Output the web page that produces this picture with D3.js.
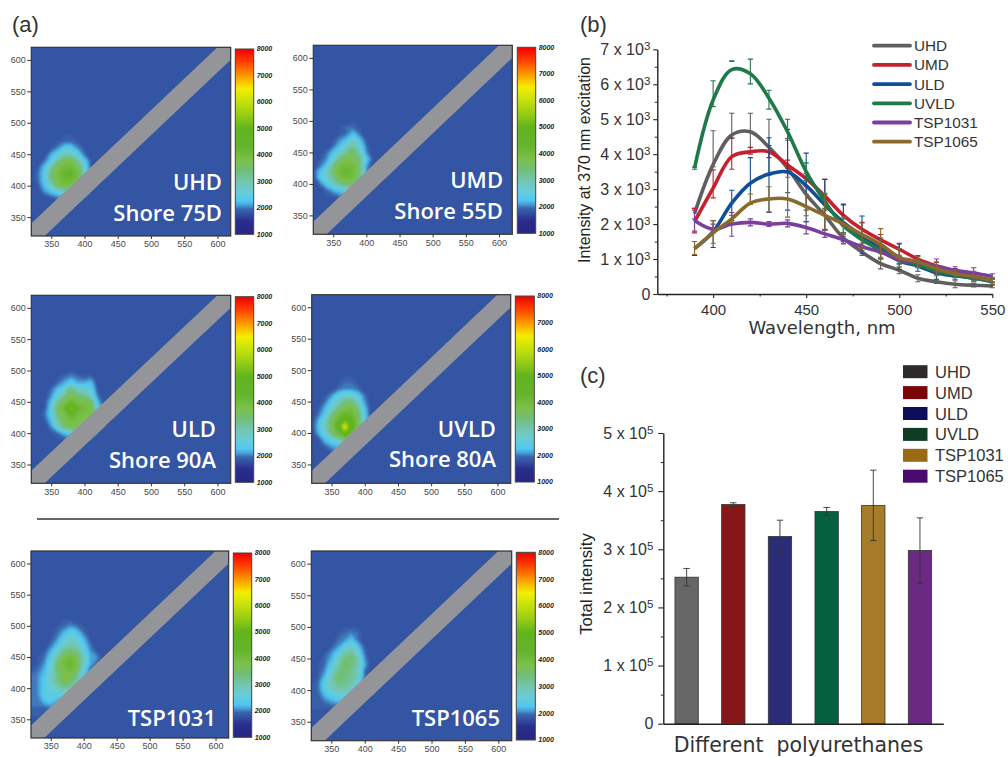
<!DOCTYPE html>
<html>
<head>
<meta charset="utf-8">
<script src="https://cdn.jsdelivr.net/npm/d3@7"></script>
<style>
  body { margin: 0; background: #fff; }
  text { font-family: "Liberation Sans", Arial, sans-serif; }
</style>
</head>
<body>
<div id="chart"></div>
<script>
// ---- data: excitation-emission maps, values in hundreds, rows go from em 520 down to em 360
const exValues = [320, 330, 340, 350, 360, 370, 380, 390, 400, 410, 420, 430];
const emValues = [520, 510, 500, 490, 480, 470, 460, 450, 440, 430, 420, 410, 400, 390, 380, 370, 360];

const gridUHD = [
  [18,18,18,18,18,18,18,18,18,18,18,18],
  [18,18,18,18,18,18,18,18,18,18,18,18],
  [18,18,18,18,18,18,18,18,18,18,18,18],
  [18,18,18,18,18,18,18,18,18,18,18,18],
  [18,18,18,18,18,19,19,18,18,18,18,18],
  [18,18,18,18,19,20,20,19,18,18,18,18],
  [18,18,18,19,21,24,24,21,19,18,18,18],
  [18,18,18,22,25,30,29,25,20,18,18,18],
  [18,18,20,24,32,38,38,32,24,19,18,18],
  [18,19,23,31,38,41,41,38,27,19,18,18],
  [18,20,24,35,40,43,44,40,28,19,18,18],
  [18,20,24,34,39,42,42,40,30,22,18,18],
  [18,19,23,28,37,40,38,38,30,20,18,18],
  [18,18,21,23,25,27,30,30,30,18,18,18],
  [18,18,18,19,20,20,20,18,18,18,18,18],
  [18,18,18,18,18,18,18,18,18,18,18,18],
  [18,18,18,18,18,18,18,18,18,18,18,18]
];
const gridUMD = [
  [18,18,18,18,18,18,18,18,18,18,18,18],
  [18,18,18,18,18,18,18,18,18,18,18,18],
  [18,18,18,18,18,18,19,18,18,18,18,18],
  [18,18,18,18,19,20,20,19,18,18,18,18],
  [18,18,18,18,19,20,23,20,18,18,18,18],
  [18,18,18,19,21,23,28,23,19,18,18,18],
  [18,18,18,20,23,28,32,26,20,18,18,18],
  [18,18,20,23,27,33,37,30,21,18,18,18],
  [18,19,21,26,35,38,38,33,24,19,18,18],
  [18,20,23,33,39,41,40,35,22,18,18,18],
  [19,23,28,36,41,43,41,35,21,18,18,18],
  [18,24,27,33,39,41,40,34,23,18,18,18],
  [18,20,24,28,33,36,36,34,18,18,18,18],
  [18,18,20,22,24,26,28,18,18,18,18,18],
  [18,18,19,19,20,20,18,18,18,18,18,18],
  [18,18,18,18,18,18,18,18,18,18,18,18],
  [18,18,18,18,18,18,18,18,18,18,18,18]
];
const gridULD = [
  [18,18,18,18,18,18,18,18,18,18,18,18],
  [18,18,18,18,18,18,18,18,18,18,18,18],
  [18,18,18,18,18,18,19,18,18,18,18,18],
  [18,18,18,18,19,20,21,20,19,20,18,18],
  [18,18,18,18,20,22,25,22,22,23,18,18],
  [18,18,18,20,23,27,35,28,28,25,19,18],
  [18,18,18,21,26,33,38,35,33,28,20,18],
  [18,18,19,23,33,38,42,39,38,36,23,18],
  [18,18,19,24,38,42,56,43,41,39,26,18],
  [18,18,20,25,35,39,44,41,39,39,30,18],
  [18,18,19,23,32,38,40,39,38,38,30,18],
  [18,18,18,21,27,35,38,38,38,38,30,18],
  [18,18,18,19,20,23,24,30,30,30,18,18],
  [18,18,18,18,19,19,20,22,22,18,18,18],
  [18,18,18,18,18,18,18,18,18,18,18,18],
  [18,18,18,18,18,18,18,18,18,18,18,18],
  [18,18,18,18,18,18,18,18,18,18,18,18]
];
const gridUVLD = [
  [18,18,18,18,18,18,18,18,18,18,18,18],
  [18,18,18,18,18,18,18,18,18,18,18,18],
  [18,18,18,18,18,18,18,18,18,18,18,18],
  [18,18,18,18,18,19,19,18,18,18,18,18],
  [18,18,18,18,19,20,20,19,18,18,18,18],
  [18,18,18,18,20,21,21,20,18,18,18,18],
  [18,18,19,21,25,27,27,24,20,18,18,18],
  [18,18,20,24,29,34,36,28,21,18,18,18],
  [18,19,22,27,34,38,39,33,23,18,18,18],
  [18,20,24,33,39,43,42,37,24,18,18,18],
  [18,22,27,37,44,52,46,38,24,18,18,18],
  [18,23,29,38,46,64,47,38,24,18,18,18],
  [18,22,26,36,42,52,42,38,18,18,18,18],
  [18,19,23,25,30,36,36,18,18,18,18,18],
  [18,18,20,22,23,25,18,18,18,18,18,18],
  [18,18,18,19,20,18,18,18,18,18,18,18],
  [18,18,18,18,18,18,18,18,18,18,18,18]
];
const gridTSP1031 = [
  [18,18,18,18,18,18,18,18,18,18,18,18],
  [18,18,18,18,18,19,19,18,18,18,18,18],
  [18,18,18,18,19,20,21,20,19,18,18,18],
  [18,18,18,18,20,22,25,23,20,18,18,18],
  [18,18,18,19,21,25,27,26,22,19,18,18],
  [18,18,18,20,23,27,30,29,24,20,18,18],
  [18,18,19,22,27,33,35,33,26,21,19,18],
  [18,19,20,24,31,39,41,37,29,22,21,18],
  [18,19,21,26,35,41,43,39,28,22,20,18],
  [19,20,22,27,35,39,41,38,26,20,19,18],
  [20,21,23,28,33,38,38,33,24,19,18,18],
  [20,21,24,28,33,38,36,30,22,18,18,18],
  [20,21,24,26,29,32,30,28,18,18,18,18],
  [20,21,24,25,25,26,28,18,18,18,18,18],
  [20,20,23,24,22,22,18,18,18,18,18,18],
  [20,20,20,21,20,18,18,18,18,18,18,18],
  [19,19,19,19,18,18,18,18,18,18,18,18]
];
const gridTSP1065 = [
  [18,18,18,18,18,18,18,18,18,18,18,18],
  [18,18,18,18,18,18,18,18,18,18,18,18],
  [18,18,18,18,18,19,19,19,18,18,18,18],
  [18,18,18,18,19,20,21,20,18,18,18,18],
  [18,18,18,18,20,21,23,20,18,18,18,18],
  [18,18,18,19,21,24,28,23,19,18,18,18],
  [18,18,19,21,24,30,32,26,20,18,18,18],
  [18,18,20,22,28,34,36,30,21,18,18,18],
  [18,19,20,24,30,37,34,30,22,18,18,18],
  [18,19,21,27,33,35,33,29,20,18,18,18],
  [18,19,23,29,36,34,32,29,20,18,18,18],
  [19,20,25,30,33,33,31,26,18,18,18,18],
  [19,20,24,28,30,30,28,18,18,18,18,18],
  [19,19,22,24,25,26,18,18,18,18,18,18],
  [19,19,20,21,22,18,18,18,18,18,18,18],
  [19,19,19,19,18,18,18,18,18,18,18,18],
  [18,18,18,18,18,18,18,18,18,18,18,18]
];

const mapTicks = [350, 400, 450, 500, 550, 600];
const barTicks = [1000, 2000, 3000, 4000, 5000, 6000, 7000, 8000];

// ---- data: panel (b), intensity in thousands
const wavelengths = [390, 400, 410, 420, 430, 440, 450, 460, 470, 480, 490, 500, 510, 520, 530, 540, 550];
const seriesNames = ["UHD", "UMD", "ULD", "UVLD", "TSP1031", "TSP1065"];

const lineUHD = [2.3, 3.7, 4.55, 4.64, 4.2, 3.6, 2.85, 2.25, 1.6, 1.2, 0.87, 0.68, 0.45, 0.35, 0.28, 0.25, 0.23];
const lineUMD = [2.07, 3.03, 3.93, 4.07, 4.07, 3.69, 3.3, 2.8, 2.25, 1.85, 1.55, 1.28, 1.0, 0.8, 0.65, 0.5, 0.4];
const lineULD = [1.3, 1.78, 2.6, 3.17, 3.43, 3.49, 3.1, 2.55, 2.05, 1.65, 1.3, 0.95, 0.8, 0.6, 0.52, 0.45, 0.35];
const lineUVLD = [3.6, 5.55, 6.42, 6.3, 5.6, 4.64, 3.5, 2.65, 1.95, 1.55, 1.25, 0.95, 0.85, 0.65, 0.55, 0.45, 0.38];
const lineTSP1031 = [2.1, 1.85, 2.0, 2.05, 2.0, 2.02, 1.9, 1.72, 1.55, 1.35, 1.2, 0.97, 0.9, 0.8, 0.68, 0.6, 0.5];
const lineTSP1065 = [1.3, 1.75, 2.15, 2.6, 2.72, 2.72, 2.5, 2.25, 2.0, 1.7, 1.42, 1.05, 0.92, 0.72, 0.58, 0.5, 0.38];

// error bar ends
const hiUHD = [2.45, 4.67, 5.17, 5.17, 5.0, 4.4, 3.3, 2.65, 1.75, 1.3, 1.02, 0.78, 0.55, 0.4, 0.38, 0.3, 0.28];
const loUHD = [2.15, 3.64, 4.45, 4.19, 3.4, 2.9, 2.4, 1.85, 1.43, 1.1, 0.72, 0.58, 0.35, 0.3, 0.18, 0.2, 0.18];
const hiUMD = [2.45, 3.55, 4.47, 4.2, 4.25, 3.83, 3.45, 3.28, 2.55, 2.05, 1.7, 1.45, 1.1, 0.9, 0.73, 0.6, 0.45];
const loUMD = [1.75, 2.75, 3.57, 4.0, 3.9, 3.6, 3.07, 2.4, 1.95, 1.65, 1.4, 1.11, 0.9, 0.7, 0.57, 0.4, 0.35];
const hiULD = [1.5, 2.1, 2.97, 3.9, 4.47, 4.71, 4.03, 3.28, 2.57, 2.23, 1.6, 1.43, 0.95, 0.8, 0.62, 0.55, 0.45];
const loULD = [1.1, 1.33, 2.1, 2.6, 2.33, 2.4, 2.07, 1.83, 1.5, 1.15, 1.0, 0.7, 0.65, 0.42, 0.42, 0.35, 0.25];
const hiUVLD = [3.63, 6.1, 6.67, 6.72, 5.83, 5.0, 3.75, 2.85, 2.15, 1.7, 1.35, 1.05, 0.95, 0.75, 0.63, 0.53, 0.43];
const loUVLD = [3.57, 5.36, 6.65, 6.01, 5.29, 4.45, 3.25, 2.45, 1.75, 1.4, 1.15, 0.85, 0.75, 0.55, 0.47, 0.37, 0.33];
const hiTSP1031 = [2.4, 2.0, 2.33, 2.15, 2.07, 2.12, 2.07, 1.82, 1.65, 1.45, 1.35, 1.07, 1.0, 1.0, 0.78, 0.75, 0.58];
const loTSP1031 = [1.8, 1.75, 1.65, 1.95, 1.93, 1.92, 1.72, 1.62, 1.45, 1.25, 1.05, 0.87, 0.8, 0.6, 0.58, 0.45, 0.42];
const hiTSP1065 = [1.5, 2.1, 2.25, 2.86, 3.07, 3.34, 2.86, 2.88, 2.2, 2.03, 1.87, 1.3, 1.07, 0.92, 0.68, 0.65, 0.48];
const loTSP1065 = [1.13, 1.45, 2.05, 2.56, 2.35, 2.2, 2.24, 1.83, 1.7, 1.3, 1.0, 0.75, 0.77, 0.52, 0.48, 0.35, 0.28];

// ---- data: panel (c), total intensity in 1e5
const barValues = [2.52, 3.77, 3.22, 3.65, 3.755, 2.98];
const barLow = [2.37, 3.73, 2.94, 3.58, 3.15, 2.42];
const barHigh = [2.67, 3.8, 3.5, 3.72, 4.36, 3.54];

const lineColors = ["#5f5f5f", "#c4202e", "#0f4f96", "#1e7a48", "#7a3f9e", "#8a6a2c"];
const barColors = ["#666666", "#861618", "#2a2c78", "#04603e", "#a67c2a", "#6a2a82"];
const swatchColors = ["#2e2a2b", "#7a0608", "#0e0d5c", "#0f3d24", "#9a6a14", "#4a0a6e"];

const svg = d3.select("#chart").append("svg")
    .attr("width", 1008)
    .attr("height", 757)
    .style("display", "block");

const defs = svg.append("defs");
defs.append("filter").attr("id", "soft")
    .attr("x", "-5%").attr("y", "-5%").attr("width", "110%").attr("height", "110%")
  .append("feGaussianBlur").attr("stdDeviation", 0.9);

// colour scale of the maps and the colour bars
const colorScale = d3.scaleLinear()
    .domain([1000, 1500, 1800, 1950, 2100, 2250, 2600, 3000, 3400, 3800, 4300, 5000, 5500, 6000, 6500, 6900, 7500, 8000])
    .range(["#252585", "#2a2e8c", "#3454a4", "#3a66ad", "#48a0d8", "#4fc8f0", "#68ccd8", "#72c6ae", "#70be78", "#7cc04a",
            "#64b42c", "#60b41c", "#96cc14", "#c4e00c", "#f4ee00", "#fca800", "#ff4000", "#f00000"]);

const gradient = defs.append("linearGradient").attr("id", "barGrad")
    .attr("x1", 0).attr("y1", 1).attr("x2", 0).attr("y2", 0);
colorScale.domain().forEach(d => {
    gradient.append("stop")
        .attr("offset", (d - 1000) / 7000)
        .attr("stop-color", colorScale(d));
});

function drawMap(p, i) {
    const x = d3.scaleLinear().domain([320, 620]).range([p.x0, p.x1]);
    const y = d3.scaleLinear().domain([320, 620]).range([p.y1, p.y0]);
    const g = svg.append("g");

    defs.append("clipPath").attr("id", "clip" + i)
      .append("rect")
        .attr("x", p.x0).attr("y", p.y0)
        .attr("width", p.x1 - p.x0).attr("height", p.y1 - p.y0);

    const plot = g.append("g").attr("clip-path", `url(#clip${i})`);
    plot.append("rect")
        .attr("x", p.x0).attr("y", p.y0)
        .attr("width", p.x1 - p.x0).attr("height", p.y1 - p.y0)
        .attr("fill", colorScale(1800));

    // contour values run through the grid cell centres
    const flat = p.grid.flat().map(v => v * 100);
    const contours = d3.contours()
        .size([exValues.length, emValues.length])
        .thresholds(d3.range(1900, 7000, 100))(flat);
    const path = d3.geoPath(d3.geoTransform({
        point(cx, cy) {
            this.stream.point(x(320 + (cx - 0.5) * 10), y(520 - (cy - 0.5) * 10));
        }
    }));
    plot.append("g")
        .attr("filter", "url(#soft)")
        .selectAll("path")
        .data(contours)
        .enter().append("path")
        .attr("d", path)
        .attr("fill", d => colorScale(d.value));

    // grey band along the excitation = emission line
    const band = [[300, 280], [300, 320], [640, 660], [640, 620]];
    plot.append("polygon")
        .attr("points", band.map(d => [x(d[0]), y(d[1])].join(",")).join(" "))
        .attr("fill", "#939598");

    g.append("rect")
        .attr("x", p.x0).attr("y", p.y0)
        .attr("width", p.x1 - p.x0).attr("height", p.y1 - p.y0)
        .attr("fill", "none")
        .attr("stroke", "#333")
        .attr("stroke-width", 1.2);

    const axisB = g.append("g")
        .attr("transform", `translate(0,${p.y1})`)
        .call(d3.axisBottom(x).tickValues(mapTicks).tickSize(3).tickPadding(2));
    const axisL = g.append("g")
        .attr("transform", `translate(${p.x0},0)`)
        .call(d3.axisLeft(y).tickValues(mapTicks).tickSize(4).tickPadding(1.5));
    [axisB, axisL].forEach(a => {
        a.select(".domain").remove();
        a.selectAll("text").attr("fill", "#4a4a4a").style("font-size", "9px");
        a.selectAll("line").attr("stroke", "#333");
    });

    // colour bar
    const cb = d3.scaleLinear().domain([1000, 8000]).range([p.cb1, p.cb0]);
    g.append("rect")
        .attr("x", p.cx0).attr("y", p.cb0)
        .attr("width", p.cx1 - p.cx0).attr("height", p.cb1 - p.cb0)
        .attr("fill", "url(#barGrad)")
        .attr("stroke", "#444")
        .attr("stroke-width", 1);
    g.selectAll("text.cb")
        .data(barTicks)
        .enter().append("text")
        .attr("class", "cb")
        .attr("x", p.cx1 + 3)
        .attr("y", d => cb(d) + 2.4)
        .attr("fill", "#222")
        .style("font-size", "7px")
        .style("font-weight", "bold")
        .style("font-style", "italic")
        .text(d => d);

    // white labels inside the map
    p.labels.forEach((t, k) => {
        g.append("text")
            .attr("x", p.labelX)
            .attr("y", p.labelY[k])
            .attr("text-anchor", "end")
            .attr("fill", "#fff")
            .style("font-family", "'Open Sans', sans-serif")
            .style("font-weight", 600)
            .style("font-size", "22px")
            .text(t);
    });
}

const panels = [
    {grid: gridUHD, x0: 31.3, x1: 230.7, y0: 47.3, y1: 236, cx0: 235.3, cx1: 253.7, cb0: 49, cb1: 234.3,
     labels: ["UHD", "Shore 75D"], labelX: 222, labelY: [190, 221]},
    {grid: gridUMD, x0: 313.3, x1: 512.3, y0: 45.3, y1: 234.3, cx0: 517.3, cx1: 535.7, cb0: 47.3, cb1: 233.3,
     labels: ["UMD", "Shore 55D"], labelX: 503, labelY: [188.3, 219.3]},
    {grid: gridULD, x0: 31.3, x1: 230.7, y0: 295.3, y1: 483.3, cx0: 235.3, cx1: 253.7, cb0: 296.7, cb1: 482.3,
     labels: ["ULD", "Shore 90A"], labelX: 216, labelY: [437.3, 468.3]},
    {grid: gridUVLD, x0: 311.7, x1: 510.7, y0: 294.7, y1: 483.3, cx0: 515.3, cx1: 534.3, cb0: 296, cb1: 482,
     labels: ["UVLD", "Shore 80A"], labelX: 496, labelY: [436.7, 467.3]},
    {grid: gridTSP1031, x0: 31, x1: 228.7, y0: 551, y1: 738, cx0: 233.3, cx1: 251.7, cb0: 553, cb1: 737.3,
     labels: ["TSP1031"], labelX: 216, labelY: [726]},
    {grid: gridTSP1065, x0: 311.3, x1: 511.7, y0: 551, y1: 740.7, cx0: 516.3, cx1: 535.3, cb0: 552.3, cb1: 740,
     labels: ["TSP1065"], labelX: 500, labelY: [726]}
];
panels.forEach(drawMap);

// divider below the first four maps
svg.append("line")
    .attr("x1", 37).attr("x2", 559)
    .attr("y1", 519).attr("y2", 519)
    .attr("stroke", "#333")
    .attr("stroke-width", 1.6);

// panel letters
[["(a)", 12, 32], ["(b)", 580, 32], ["(c)", 580, 383]].forEach(d => {
    svg.append("text")
        .attr("x", d[1]).attr("y", d[2])
        .attr("fill", "#333")
        .style("font-size", "22px")
        .text(d[0]);
});

// "n x 10^e" tick labels
function powerTick(sel, exponent) {
    sel.each(function (d) {
        const t = d3.select(this);
        t.text(null);
        t.style("font-size", "16px");
        if (d === 0) { t.text("0"); return; }
        t.append("tspan").text(d + " x 10");
        t.append("tspan").attr("dy", "-0.42em").style("font-size", "0.72em").text(exponent);
    });
}

function styleAxis(a) {
    a.selectAll(".domain").attr("stroke", "#222").attr("stroke-width", 1.4);
    a.selectAll("line").attr("stroke", "#222").attr("stroke-width", 1.1);
    a.selectAll("text").attr("fill", "#333").style("font-size", "15px");
}

// ---- panel (b)
const xB = d3.scaleLinear().domain([370, 550]).range([657.3, 992.3]);
const yB = d3.scaleLinear().domain([0, 7]).range([294, 49.3]);

const minorB = svg.append("g");
minorB.append("g")
    .attr("transform", "translate(0,294)")
    .call(d3.axisBottom(xB).tickValues([375, 425, 475, 525]).tickSize(2.5).tickFormat(""))
    .call(g => g.select(".domain").remove());
minorB.append("g")
    .attr("transform", "translate(657.3,0)")
    .call(d3.axisLeft(yB).tickValues(d3.range(0.5, 7, 1)).tickSize(2.5).tickFormat(""))
    .call(g => g.select(".domain").remove());
minorB.selectAll("line").attr("stroke", "#222");

const axisBx = svg.append("g")
    .attr("transform", "translate(0,294)")
    .call(d3.axisBottom(xB).tickValues([400, 450, 500, 550]).tickSize(4).tickPadding(6).tickSizeOuter(0));
styleAxis(axisBx);
const axisBy = svg.append("g")
    .attr("transform", "translate(657.3,0)")
    .call(d3.axisLeft(yB).tickValues(d3.range(0, 8)).tickSize(4).tickPadding(3).tickSizeOuter(0));
styleAxis(axisBy);
axisBy.selectAll("text").call(powerTick, "3");

const lineData = [lineUHD, lineUMD, lineULD, lineUVLD, lineTSP1031, lineTSP1065];
const hiData = [hiUHD, hiUMD, hiULD, hiUVLD, hiTSP1031, hiTSP1065];
const loData = [loUHD, loUMD, loULD, loUVLD, loTSP1031, loTSP1065];
const line = d3.line()
    .x((d, i) => xB(wavelengths[i]))
    .y(d => yB(d))
    .curve(d3.curveCatmullRom.alpha(0.5));

seriesNames.forEach((name, s) => {
    const g = svg.append("g");
    const errs = wavelengths.map((w, i) => ({x: w, lo: loData[s][i], hi: hiData[s][i]}));
    g.selectAll("path.err")
        .data(errs)
        .enter().append("path")
        .attr("class", "err")
        .attr("d", d => `M${xB(d.x) - 2.6},${yB(d.hi)}h5.2M${xB(d.x)},${yB(d.hi)}V${yB(d.lo)}M${xB(d.x) - 2.6},${yB(d.lo)}h5.2`)
        .attr("fill", "none")
        .attr("stroke", lineColors[s])
        .attr("stroke-width", 1.1);
    g.append("path")
        .attr("d", line(lineData[s]))
        .attr("fill", "none")
        .attr("stroke", lineColors[s])
        .attr("stroke-width", 3.6);
});

// legend (b)
seriesNames.forEach((name, s) => {
    const ly = 45.7 + s * 19.2;
    svg.append("line")
        .attr("x1", 874).attr("x2", 910)
        .attr("y1", ly).attr("y2", ly)
        .attr("stroke", lineColors[s])
        .attr("stroke-width", 3.8)
        .attr("stroke-linecap", "round");
    svg.append("text")
        .attr("x", 914).attr("y", ly + 5.5)
        .attr("fill", "#333")
        .style("font-size", "15.3px")
        .text(name);
});

svg.append("text")
    .attr("transform", "translate(589.5,160) rotate(-90)")
    .attr("text-anchor", "middle")
    .attr("fill", "#222")
    .style("font-size", "15.9px")
    .text("Intensity at 370 nm excitation");

svg.append("text")
    .attr("x", 822).attr("y", 334)
    .attr("text-anchor", "middle")
    .attr("fill", "#333")
    .style("font-family", "'DejaVu Sans', sans-serif")
    .style("font-size", "18px")
    .text("Wavelength, nm");

// ---- panel (c)
const xC = d3.scaleBand().domain(seriesNames).range([663.3, 943.3]).paddingInner(0.5).paddingOuter(0.25);
const yC = d3.scaleLinear().domain([0, 5]).range([723.7, 433]);

svg.append("g")
    .attr("transform", "translate(663.3,0)")
    .call(d3.axisLeft(yC).tickValues(d3.range(0.5, 5, 1)).tickSize(2.5).tickFormat(""))
    .call(g => g.select(".domain").remove())
    .selectAll("line").attr("stroke", "#222");

svg.append("g").selectAll("rect")
    .data(seriesNames)
    .enter().append("rect")
    .attr("x", d => xC(d))
    .attr("y", (d, i) => yC(barValues[i]))
    .attr("width", xC.bandwidth())
    .attr("height", (d, i) => yC(0) - yC(barValues[i]))
    .attr("fill", (d, i) => barColors[i])
    .attr("stroke", "#333")
    .attr("stroke-width", 0.8);

svg.append("g").selectAll("path")
    .data(seriesNames)
    .enter().append("path")
    .attr("d", (d, i) => {
        const cx = xC(d) + xC.bandwidth() / 2;
        return `M${cx - 3.2},${yC(barHigh[i])}h6.4M${cx},${yC(barHigh[i])}V${yC(barLow[i])}M${cx - 3.2},${yC(barLow[i])}h6.4`;
    })
    .attr("fill", "none")
    .attr("stroke", "#333")
    .attr("stroke-width", 0.9);

const axisCx = svg.append("g")
    .attr("transform", "translate(0,723.7)")
    .call(d3.axisBottom(xC).tickValues([]).tickSize(0));
styleAxis(axisCx);
const axisCy = svg.append("g")
    .attr("transform", "translate(663.3,0)")
    .call(d3.axisLeft(yC).tickValues(d3.range(0, 6)).tickSize(5).tickPadding(5).tickSizeOuter(0));
styleAxis(axisCy);
axisCy.selectAll("text").call(powerTick, "5");

// legend (c)
seriesNames.forEach((name, s) => {
    const ly = 371.7 + s * 20.9;
    svg.append("rect")
        .attr("x", 903).attr("y", ly - 6.5)
        .attr("width", 24.5).attr("height", 13)
        .attr("fill", swatchColors[s]);
    svg.append("text")
        .attr("x", 935).attr("y", ly + 6)
        .attr("fill", "#333")
        .style("font-size", "16.5px")
        .text(name);
});

svg.append("text")
    .attr("transform", "translate(591.7,584) rotate(-90)")
    .attr("text-anchor", "middle")
    .attr("fill", "#222")
    .style("font-size", "16.8px")
    .text("Total intensity");

svg.append("text")
    .attr("x", 798.5).attr("y", 752)
    .attr("text-anchor", "middle")
    .attr("fill", "#333")
    .attr("xml:space", "preserve")
    .style("font-family", "'DejaVu Sans', sans-serif")
    .style("font-size", "20.5px")
    .style("white-space", "pre")
    .text("Different  polyurethanes");
</script>
</body>
</html>
